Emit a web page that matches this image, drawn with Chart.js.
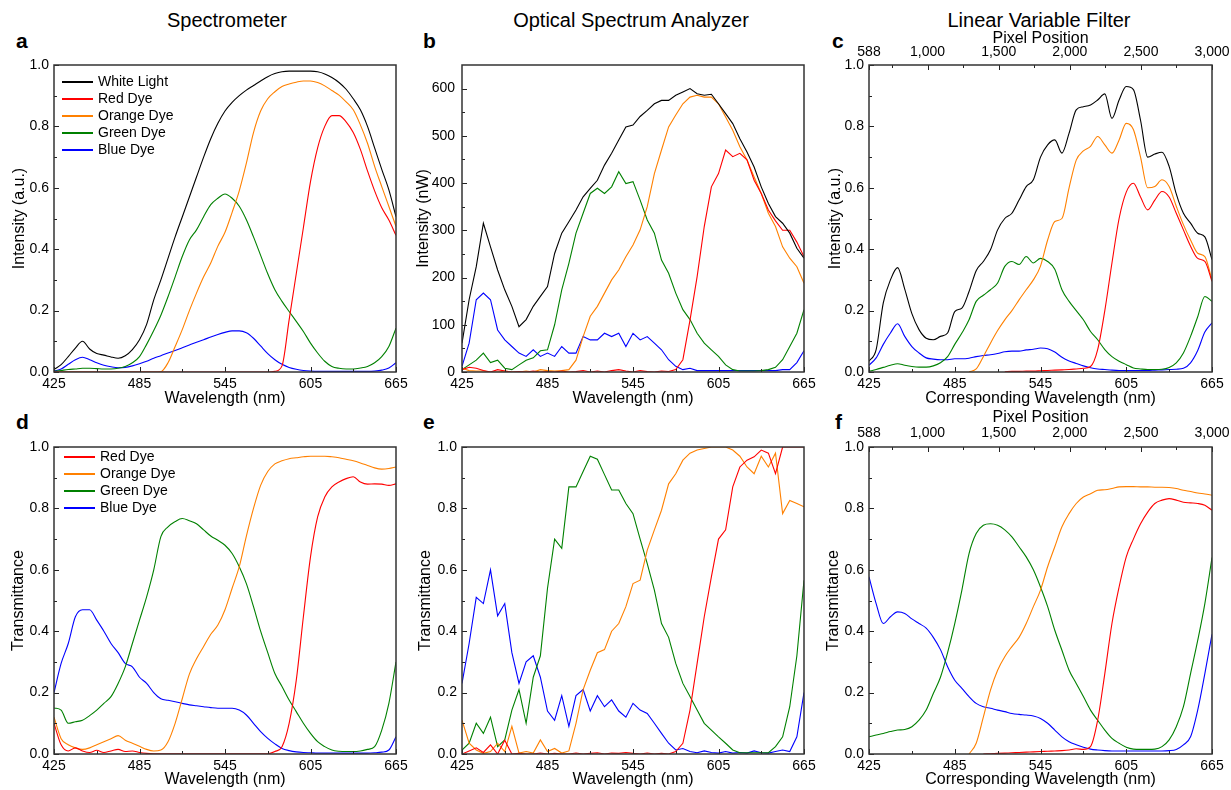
<!DOCTYPE html>
<html>
<head>
<meta charset="utf-8">
<script src="https://cdn.jsdelivr.net/npm/chart.js@4.4.1/dist/chart.umd.min.js"></script>
<style>
  body { margin: 0; background: #fff; font-family: "Liberation Sans", Arial, sans-serif; }
  #page { position: relative; width: 1231px; height: 790px; overflow: hidden; }
  canvas { position: absolute; }
  .colTitle { position: absolute; top: 10px; font-size: 20px; line-height: 20px; transform: translateX(-50%); white-space: nowrap; }
  .letter { position: absolute; font-size: 21px; line-height: 21px; font-weight: bold; }
  .legend { position: absolute; font-size: 14px; }
  .legend div { height: 17px; line-height: 17px; white-space: nowrap; }
  .legend span { display: inline-block; width: 31px; height: 0; border-top: 2px solid; vertical-align: middle; margin-right: 5px; }
</style>
</head>
<body>
<div id="page">
  <div class="colTitle" style="left:227px">Spectrometer</div>
  <div class="colTitle" style="left:631px">Optical Spectrum Analyzer</div>
  <div class="colTitle" style="left:1039px">Linear Variable Filter</div>
  <div class="letter" style="left:16px;top:30px">a</div>
  <div class="letter" style="left:423px;top:30px">b</div>
  <div class="letter" style="left:832px;top:30px">c</div>
  <div class="letter" style="left:16px;top:411px">d</div>
  <div class="letter" style="left:423px;top:411px">e</div>
  <div class="letter" style="left:835px;top:411px">f</div>
  <canvas id="chartA" width="410" height="382" style="left:0;top:28px"></canvas>
  <canvas id="chartB" width="408" height="382" style="left:410px;top:28px"></canvas>
  <canvas id="chartC" width="413" height="382" style="left:818px;top:28px"></canvas>
  <canvas id="chartD" width="410" height="390" style="left:0;top:400px"></canvas>
  <canvas id="chartE" width="408" height="390" style="left:410px;top:400px"></canvas>
  <canvas id="chartF" width="413" height="390" style="left:818px;top:400px"></canvas>
  <div class="legend" id="legendA" style="left:62px;top:73px"></div>
  <div class="legend" id="legendD" style="left:64px;top:448px"></div>
</div>
<script>
// wavelength grid (nm)
const wavelength = [425, 430, 435, 440, 445, 450, 455, 460, 465, 470, 475, 480, 485, 490, 495, 500, 505, 510, 515, 520, 525, 530, 535, 540, 545, 550, 555, 560, 565, 570, 575, 580, 585, 590, 595, 600, 605, 610, 615, 620, 625, 630, 635, 640, 645, 650, 655, 660, 665];
const wavelengthTicks = [425, 485, 545, 605, 665];
const wavelengthMinor = [455, 515, 575, 635];
const unitTicks = [0, 0.2, 0.4, 0.6, 0.8, 1.0];
const unitMinor = [0.1, 0.3, 0.5, 0.7, 0.9];
const nwTicks = [0, 100, 200, 300, 400, 500, 600];
const nwMinor = [50, 150, 250, 350, 450, 550];
const pixelTicks = [588, 1000, 1500, 2000, 2500, 3000];
const pixelMinor = [750, 1250, 1750, 2250, 2750];

const dyeLabels = ['Red Dye', 'Orange Dye', 'Green Dye', 'Blue Dye'];
const dyeColors = ['#ff0000', '#ff8000', '#008000', '#0000ff'];

// a - spectrometer intensity (a.u.)
const specWhite = [0.008, 0.024, 0.05, 0.078, 0.1, 0.075, 0.06, 0.055, 0.049, 0.045, 0.053, 0.073, 0.105, 0.155, 0.235, 0.3, 0.37, 0.44, 0.505, 0.57, 0.635, 0.7, 0.76, 0.81, 0.85, 0.878, 0.9, 0.918, 0.933, 0.948, 0.962, 0.972, 0.978, 0.98, 0.98, 0.98, 0.98, 0.978, 0.971, 0.959, 0.943, 0.921, 0.89, 0.854, 0.8, 0.73, 0.66, 0.593, 0.506];
const specRed = [0, 0, 0, 0, 0, 0, 0, 0, 0, 0, 0, 0, 0, 0, 0, 0, 0, 0, 0, 0, 0, 0, 0, 0, 0, 0, 0, 0, 0, 0, 0, 0.002, 0.02, 0.17, 0.32, 0.47, 0.62, 0.73, 0.8, 0.835, 0.835, 0.815, 0.78, 0.725, 0.655, 0.59, 0.535, 0.495, 0.445];
const specOrange = [0, 0, 0, 0, 0, 0, 0, 0, 0, 0, 0, 0, 0, 0, 0, 0.001, 0.03, 0.083, 0.138, 0.2, 0.257, 0.31, 0.355, 0.41, 0.455, 0.52, 0.59, 0.68, 0.78, 0.85, 0.89, 0.913, 0.93, 0.938, 0.944, 0.948, 0.948, 0.943, 0.932, 0.917, 0.902, 0.88, 0.854, 0.805, 0.745, 0.67, 0.604, 0.539, 0.474];
const specGreen = [0.002, 0.005, 0.008, 0.01, 0.012, 0.012, 0.011, 0.01, 0.01, 0.012, 0.018, 0.03, 0.05, 0.09, 0.135, 0.185, 0.245, 0.31, 0.376, 0.43, 0.463, 0.506, 0.545, 0.566, 0.58, 0.566, 0.54, 0.496, 0.44, 0.38, 0.32, 0.268, 0.23, 0.197, 0.165, 0.132, 0.094, 0.062, 0.035, 0.018, 0.012, 0.01, 0.01, 0.013, 0.018, 0.03, 0.05, 0.083, 0.143];
const specBlue = [0.003, 0.01, 0.025, 0.04, 0.048, 0.04, 0.03, 0.022, 0.017, 0.014, 0.015, 0.02, 0.027, 0.035, 0.045, 0.053, 0.062, 0.07, 0.079, 0.088, 0.097, 0.105, 0.114, 0.122, 0.129, 0.134, 0.134, 0.128, 0.11, 0.085, 0.06, 0.04, 0.025, 0.015, 0.009, 0.005, 0.003, 0.002, 0.002, 0.002, 0.002, 0.002, 0.002, 0.002, 0.002, 0.003, 0.006, 0.013, 0.03];

// b - optical spectrum analyzer intensity (nW)
const osaWhite = [61, 153, 223, 315, 265, 216, 174, 139, 96, 111, 139, 160, 181, 251, 294, 318, 343, 371, 389, 406, 438, 463, 491, 519, 523, 541, 554, 568, 575, 575, 586, 593, 600, 589, 586, 588, 568, 547, 526, 494, 466, 434, 392, 357, 329, 315, 294, 262, 241];
const osaRed = [5, 10, 8, 3, 0, 5, 2, 0, 1, 0, 2, 0, 1, 0, 2, 0, 1, 3, 0, 2, 0, 3, 5, 2, 0, 3, 1, 0, 2, 1, 5, 26, 110, 202, 308, 392, 420, 470, 456, 463, 449, 406, 378, 343, 320, 300, 300, 275, 244];
const osaOrange = [8, 3, 2, 2, 0, 0, 2, 0, 0, 2, 0, 5, 3, 2, 3, 5, 25, 75, 118, 139, 167, 195, 216, 244, 269, 301, 350, 420, 470, 519, 544, 568, 582, 586, 582, 582, 568, 540, 512, 477, 449, 413, 378, 336, 308, 265, 241, 223, 188];
const osaGreen = [5, 15, 25, 40, 20, 25, 8, 5, 15, 25, 30, 45, 47, 100, 174, 230, 294, 336, 378, 389, 378, 392, 424, 399, 403, 364, 322, 294, 237, 209, 167, 132, 111, 82, 61, 47, 33, 15, 5, 2, 2, 2, 3, 5, 10, 26, 54, 82, 132];
const osaBlue = [12, 61, 153, 167, 153, 89, 68, 54, 40, 33, 47, 33, 40, 33, 54, 40, 40, 75, 68, 68, 82, 75, 82, 54, 82, 68, 75, 61, 47, 26, 12, 5, 8, 3, 3, 3, 3, 3, 3, 3, 3, 3, 3, 3, 3, 5, 5, 20, 45];

// c - linear variable filter intensity (a.u.)
const lvfWhite = [0.035, 0.073, 0.225, 0.3, 0.34, 0.27, 0.19, 0.138, 0.11, 0.105, 0.116, 0.127, 0.197, 0.208, 0.262, 0.33, 0.36, 0.398, 0.463, 0.5, 0.517, 0.56, 0.604, 0.626, 0.7, 0.74, 0.756, 0.713, 0.778, 0.854, 0.864, 0.87, 0.886, 0.906, 0.826, 0.886, 0.93, 0.92, 0.82, 0.7, 0.71, 0.716, 0.67, 0.58, 0.517, 0.485, 0.452, 0.44, 0.366];
const lvfRed = [null, null, null, null, null, null, null, null, null, null, null, null, null, null, null, null, null, null, null, 0.001, 0.002, 0.002, 0.003, 0.003, 0.004, 0.005, 0.006, 0.007, 0.008, 0.01, 0.012, 0.018, 0.073, 0.2, 0.355, 0.5, 0.586, 0.615, 0.57, 0.528, 0.56, 0.588, 0.57, 0.517, 0.463, 0.41, 0.37, 0.36, 0.295];
const lvfOrange = [null, null, null, null, null, null, null, null, null, null, null, null, null, null, 0, 0.01, 0.05, 0.094, 0.135, 0.17, 0.2, 0.235, 0.268, 0.3, 0.345, 0.43, 0.49, 0.5, 0.6, 0.69, 0.72, 0.735, 0.767, 0.74, 0.713, 0.756, 0.81, 0.79, 0.7, 0.6, 0.604, 0.626, 0.604, 0.54, 0.48, 0.43, 0.387, 0.376, 0.3];
const lvfGreen = [0.002, 0.008, 0.015, 0.022, 0.027, 0.022, 0.018, 0.016, 0.016, 0.02, 0.03, 0.05, 0.09, 0.127, 0.17, 0.23, 0.25, 0.268, 0.29, 0.344, 0.36, 0.35, 0.376, 0.355, 0.37, 0.36, 0.335, 0.268, 0.23, 0.2, 0.17, 0.132, 0.105, 0.073, 0.05, 0.035, 0.024, 0.013, 0.01, 0.008, 0.008, 0.009, 0.015, 0.03, 0.062, 0.116, 0.18, 0.246, 0.23];
const lvfBlue = [0.022, 0.046, 0.09, 0.127, 0.157, 0.116, 0.083, 0.062, 0.046, 0.042, 0.04, 0.04, 0.043, 0.043, 0.045, 0.05, 0.054, 0.056, 0.06, 0.066, 0.068, 0.068, 0.072, 0.074, 0.078, 0.076, 0.065, 0.048, 0.036, 0.028, 0.02, 0.014, 0.01, 0.008, 0.006, 0.005, 0.005, 0.005, 0.005, 0.005, 0.006, 0.007, 0.008, 0.009, 0.012, 0.03, 0.07, 0.13, 0.16];

// d - spectrometer transmittance
const specTRed = [0.1, 0.03, 0.01, 0.02, 0.01, 0.005, 0.012, 0.005, 0.01, 0.015, 0.008, 0.01, 0.005, 0.002, 0.001, 0.001, 0.001, 0.001, 0.001, 0.001, 0.001, 0.001, 0.001, 0.001, 0.001, 0.001, 0.001, 0.001, 0.001, 0.001, 0.001, 0.008, 0.024, 0.1, 0.24, 0.447, 0.642, 0.772, 0.837, 0.87, 0.886, 0.897, 0.903, 0.886, 0.879, 0.88, 0.879, 0.875, 0.88];
const specTOrange = [0.12, 0.05, 0.03, 0.02, 0.015, 0.02, 0.03, 0.04, 0.05, 0.06, 0.045, 0.035, 0.025, 0.015, 0.01, 0.013, 0.04, 0.1, 0.18, 0.26, 0.31, 0.35, 0.39, 0.42, 0.47, 0.54, 0.61, 0.71, 0.8, 0.875, 0.92, 0.945, 0.955, 0.962, 0.965, 0.968, 0.97, 0.97, 0.97, 0.968, 0.965, 0.96, 0.955, 0.948, 0.94, 0.932, 0.928, 0.93, 0.935];
const specTGreen = [0.15, 0.143, 0.1, 0.105, 0.11, 0.125, 0.143, 0.165, 0.187, 0.23, 0.284, 0.36, 0.436, 0.512, 0.6, 0.708, 0.74, 0.757, 0.767, 0.76, 0.75, 0.73, 0.71, 0.696, 0.68, 0.653, 0.61, 0.555, 0.48, 0.4, 0.33, 0.262, 0.22, 0.176, 0.138, 0.1, 0.067, 0.04, 0.024, 0.013, 0.009, 0.008, 0.008, 0.01, 0.015, 0.024, 0.078, 0.165, 0.3];
const specTBlue = [0.2, 0.295, 0.36, 0.447, 0.47, 0.47, 0.436, 0.4, 0.36, 0.33, 0.295, 0.284, 0.25, 0.23, 0.2, 0.18, 0.175, 0.17, 0.165, 0.16, 0.157, 0.154, 0.151, 0.149, 0.149, 0.149, 0.143, 0.127, 0.1, 0.073, 0.051, 0.033, 0.018, 0.011, 0.007, 0.005, 0.004, 0.003, 0.003, 0.003, 0.003, 0.003, 0.003, 0.003, 0.003, 0.004, 0.006, 0.013, 0.056];

// e - optical spectrum analyzer transmittance
const osaTRed = [0, 0.01, 0.02, 0.005, 0.03, 0, 0.045, 0, 0.002, 0, 0, 0.003, 0, 0.002, 0, 0, 0.003, 0, 0.002, 0.004, 0, 0.003, 0.002, 0.005, 0.002, 0, 0.003, 0, 0.002, 0, 0.008, 0.035, 0.143, 0.295, 0.447, 0.577, 0.7, 0.73, 0.87, 0.935, 0.957, 0.968, 0.99, 0.98, 0.913, 1, 1, 1, 1];
const osaTOrange = [0.11, 0.035, 0.013, 0.002, 0.008, 0.035, 0.008, 0.09, 0.003, 0.008, 0.003, 0.046, 0.008, 0.018, 0.003, 0.01, 0.1, 0.21, 0.273, 0.33, 0.34, 0.4, 0.425, 0.48, 0.555, 0.566, 0.664, 0.73, 0.794, 0.88, 0.913, 0.957, 0.98, 0.99, 0.995, 1, 1, 1, 0.99, 0.97, 0.935, 0.913, 0.97, 0.935, 0.98, 0.783, 0.826, 0.816, 0.805];
const osaTGreen = [0.013, 0.035, 0.1, 0.067, 0.12, 0.024, 0.046, 0.143, 0.21, 0.1, 0.25, 0.32, 0.54, 0.7, 0.67, 0.87, 0.87, 0.92, 0.97, 0.96, 0.91, 0.86, 0.86, 0.816, 0.783, 0.7, 0.62, 0.534, 0.425, 0.38, 0.295, 0.23, 0.187, 0.143, 0.1, 0.078, 0.056, 0.035, 0.013, 0.004, 0.004, 0.004, 0.004, 0.004, 0.024, 0.056, 0.154, 0.32, 0.566];
const osaTBlue = [0.23, 0.36, 0.51, 0.49, 0.6, 0.45, 0.49, 0.33, 0.23, 0.3, 0.32, 0.25, 0.14, 0.11, 0.19, 0.09, 0.19, 0.21, 0.14, 0.19, 0.154, 0.176, 0.14, 0.12, 0.165, 0.143, 0.132, 0.1, 0.067, 0.035, 0.013, 0.018, 0.008, 0.004, 0.01, 0.005, 0.003, 0.008, 0.003, 0.005, 0.003, 0.01, 0.004, 0.003, 0.008, 0.013, 0.008, 0.056, 0.2];

// f - linear variable filter transmittance
const lvfTRed = [null, null, null, null, null, null, null, null, null, null, null, null, null, null, null, null, 0, 0.001, 0.002, 0.003, 0.004, 0.005, 0.006, 0.007, 0.008, 0.009, 0.01, 0.011, 0.013, 0.017, 0.015, 0.024, 0.11, 0.262, 0.425, 0.544, 0.642, 0.7, 0.75, 0.788, 0.816, 0.827, 0.832, 0.827, 0.82, 0.818, 0.816, 0.81, 0.794];
const lvfTOrange = [null, null, null, null, null, null, null, null, null, null, null, null, null, null, 0, 0.035, 0.12, 0.208, 0.273, 0.317, 0.35, 0.38, 0.425, 0.48, 0.534, 0.61, 0.675, 0.74, 0.783, 0.816, 0.837, 0.848, 0.859, 0.861, 0.865, 0.87, 0.871, 0.871, 0.87, 0.87, 0.869, 0.869, 0.868, 0.865, 0.859, 0.855, 0.85, 0.847, 0.843];
const lvfTGreen = [0.056, 0.062, 0.067, 0.073, 0.078, 0.08, 0.089, 0.11, 0.143, 0.197, 0.25, 0.33, 0.425, 0.534, 0.653, 0.718, 0.745, 0.75, 0.745, 0.73, 0.707, 0.675, 0.642, 0.6, 0.544, 0.48, 0.403, 0.338, 0.273, 0.23, 0.187, 0.143, 0.11, 0.078, 0.051, 0.035, 0.022, 0.016, 0.015, 0.015, 0.016, 0.024, 0.046, 0.089, 0.154, 0.262, 0.37, 0.49, 0.64];
const lvfTBlue = [0.577, 0.49, 0.425, 0.447, 0.463, 0.458, 0.44, 0.425, 0.41, 0.38, 0.34, 0.284, 0.24, 0.214, 0.187, 0.165, 0.154, 0.149, 0.143, 0.138, 0.132, 0.129, 0.127, 0.124, 0.116, 0.1, 0.078, 0.056, 0.04, 0.03, 0.022, 0.016, 0.013, 0.011, 0.01, 0.01, 0.01, 0.01, 0.01, 0.01, 0.01, 0.01, 0.011, 0.015, 0.03, 0.056, 0.143, 0.262, 0.39];


Chart.defaults.font.family = '"Liberation Sans", Arial, sans-serif';
Chart.defaults.color = '#000';

// inward ticks + frame, like the origin-style plots
const frameTicks = {
  id: 'frameTicks',
  afterDatasetsDraw(chart, args, opts) {
    const { ctx, chartArea: area, scales } = chart;
    const line = (x1, y1, x2, y2) => {
      ctx.beginPath();
      ctx.moveTo(x1, y1);
      ctx.lineTo(x2, y2);
      ctx.stroke();
    };
    ctx.save();
    ctx.strokeStyle = '#222';
    ctx.lineWidth = 1;
    const xs = scales.x, ys = scales.y, top = scales.x2;
    xs.ticks.forEach(t => { const p = Math.round(xs.getPixelForValue(t.value)) + 0.5; line(p, area.bottom, p, area.bottom - 5); });
    opts.minorX.forEach(v => { const p = Math.round(xs.getPixelForValue(v)) + 0.5; line(p, area.bottom, p, area.bottom - 3); });
    ys.ticks.forEach(t => { const p = Math.round(ys.getPixelForValue(t.value)) + 0.5; line(area.left, p, area.left + 5, p); });
    opts.minorY.forEach(v => { const p = Math.round(ys.getPixelForValue(v)) + 0.5; line(area.left, p, area.left + 3, p); });
    if (top) {
      top.ticks.forEach(t => { const p = Math.round(top.getPixelForValue(t.value)) + 0.5; line(p, area.top, p, area.top + 5); });
      pixelMinor.forEach(v => { const p = Math.round(top.getPixelForValue(v)) + 0.5; line(p, area.top, p, area.top + 3); });
    }
    ctx.strokeStyle = '#333';
    ctx.lineWidth = 1.5;
    ctx.strokeRect(area.left, area.top, area.right - area.left, area.bottom - area.top);
    ctx.restore();
  }
};

function series(values, color, label, smooth) {
  return {
    label: label,
    data: wavelength.map((w, i) => ({ x: w, y: values[i] })),
    borderColor: color,
    backgroundColor: color,
    borderWidth: 1.1,
    pointRadius: 0,
    cubicInterpolationMode: smooth ? 'monotone' : 'default',
    tension: 0,
    spanGaps: false
  };
}

function makeChart(id, cfg) {
  const scales = {
    x: {
      type: 'linear', position: 'bottom', min: 425, max: 665,
      afterBuildTicks: s => { s.ticks = wavelengthTicks.map(v => ({ value: v })); },
      afterFit: s => { s.height = cfg.xHeight; s.paddingLeft = 0; s.paddingRight = 0; },
      grid: { display: false, drawTicks: false },
      border: { display: false },
      ticks: { padding: 4, font: { size: 14 }, color: '#000', maxRotation: 0, autoSkip: false },
      title: { display: true, text: cfg.xTitle, font: { size: 16 }, color: '#000', padding: { top: 0, bottom: cfg.xTitlePad } }
    },
    y: {
      type: 'linear', position: 'left', min: 0, max: cfg.yMax,
      afterBuildTicks: s => { s.ticks = cfg.yTicks.map(v => ({ value: v })); },
      afterFit: s => { s.width = cfg.yWidth; s.paddingTop = 0; s.paddingBottom = 0; },
      grid: { display: false, drawTicks: false },
      border: { display: false },
      ticks: { padding: cfg.yTickPad, font: { size: 14 }, color: '#000', callback: cfg.yFormat },
      title: { display: true, text: cfg.yTitle, font: { size: 16 }, color: '#000', padding: { top: cfg.yTitlePad, bottom: 0 } }
    }
  };
  if (cfg.pixelAxis) {
    scales.x2 = {
      type: 'linear', position: 'top', min: 588, max: 3000,
      afterBuildTicks: s => { s.ticks = pixelTicks.map(v => ({ value: v })); },
      afterFit: s => { s.height = cfg.topHeight; s.paddingLeft = 0; s.paddingRight = 0; },
      grid: { display: false, drawTicks: false },
      border: { display: false },
      ticks: { padding: cfg.topTickPad, font: { size: 14 }, color: '#000', maxRotation: 0, autoSkip: false,
        callback: v => v.toLocaleString('en-US') },
      title: { display: true, text: 'Pixel Position', font: { size: 16 }, color: '#000', padding: { top: cfg.topTitlePad, bottom: 0 } }
    };
  }
  return new Chart(document.getElementById(id), {
    type: 'line',
    data: { datasets: cfg.datasets },
    options: {
      responsive: false,
      animation: false,
      layout: { padding: { left: 0, right: cfg.padRight, top: cfg.pixelAxis ? 0 : cfg.padTop, bottom: 0 } },
      scales: scales,
      plugins: {
        legend: { display: false },
        tooltip: { enabled: false },
        frameTicks: { minorX: wavelengthMinor, minorY: cfg.yMinor }
      }
    },
    plugins: [frameTicks]
  });
}

const oneDecimal = v => v.toFixed(1);
const plain = v => String(v);

function dyeSets(r, o, g, b, smooth) {
  return [r, o, g, b].map((arr, i) => series(arr, dyeColors[i], dyeLabels[i], smooth));
}

makeChart('chartA', {
  datasets: [series(specWhite, '#000000', 'White Light', true)].concat(dyeSets(specRed, specOrange, specGreen, specBlue, true)),
  xTitle: 'Wavelength (nm)', yTitle: 'Intensity (a.u.)', yMax: 1, yTicks: unitTicks, yMinor: unitMinor, yFormat: oneDecimal,
  yWidth: 54, yTickPad: 5, yTitlePad: 10, padRight: 14, padTop: 37, xHeight: 38, xTitlePad: 2
});
makeChart('chartB', {
  datasets: [series(osaWhite, '#000000', 'White Light', false)].concat(dyeSets(osaRed, osaOrange, osaGreen, osaBlue, false)),
  xTitle: 'Wavelength (nm)', yTitle: 'Intensity (nW)', yMax: 650, yTicks: nwTicks, yMinor: nwMinor, yFormat: plain,
  yWidth: 52, yTickPad: 7, yTitlePad: 4, padRight: 14, padTop: 37, xHeight: 38, xTitlePad: 2
});
makeChart('chartC', {
  datasets: [series(lvfWhite, '#000000', 'White Light', true)].concat(dyeSets(lvfRed, lvfOrange, lvfGreen, lvfBlue, true)),
  xTitle: 'Corresponding Wavelength (nm)', yTitle: 'Intensity (a.u.)', yMax: 1, yTicks: unitTicks, yMinor: unitMinor, yFormat: oneDecimal,
  yWidth: 51, yTickPad: 5, yTitlePad: 8, padRight: 19, xHeight: 38, xTitlePad: 2,
  pixelAxis: true, topHeight: 37, topTickPad: 4, topTitlePad: 1
});
makeChart('chartD', {
  datasets: dyeSets(specTRed, specTOrange, specTGreen, specTBlue, true),
  xTitle: 'Wavelength (nm)', yTitle: 'Transmittance', yMax: 1, yTicks: unitTicks, yMinor: unitMinor, yFormat: oneDecimal,
  yWidth: 54, yTickPad: 5, yTitlePad: 9, padRight: 14, padTop: 47, xHeight: 36, xTitlePad: 1
});
makeChart('chartE', {
  datasets: dyeSets(osaTRed, osaTOrange, osaTGreen, osaTBlue, false),
  xTitle: 'Wavelength (nm)', yTitle: 'Transmittance', yMax: 1, yTicks: unitTicks, yMinor: unitMinor, yFormat: oneDecimal,
  yWidth: 52, yTickPad: 5, yTitlePad: 6, padRight: 14, padTop: 47, xHeight: 36, xTitlePad: 1
});
makeChart('chartF', {
  datasets: dyeSets(lvfTRed, lvfTOrange, lvfTGreen, lvfTBlue, true),
  xTitle: 'Corresponding Wavelength (nm)', yTitle: 'Transmittance', yMax: 1, yTicks: unitTicks, yMinor: unitMinor, yFormat: oneDecimal,
  yWidth: 51, yTickPad: 5, yTitlePad: 6, padRight: 19, xHeight: 36, xTitlePad: 1,
  pixelAxis: true, topHeight: 47, topTickPad: 5, topTitlePad: 8
});

// legends in panels a and d
function buildLegend(id, labels, colors) {
  const box = document.getElementById(id);
  labels.forEach((label, i) => {
    const row = document.createElement('div');
    const swatch = document.createElement('span');
    swatch.style.borderTopColor = colors[i];
    row.appendChild(swatch);
    row.appendChild(document.createTextNode(label));
    box.appendChild(row);
  });
}
buildLegend('legendA', ['White Light'].concat(dyeLabels), ['#000000'].concat(dyeColors));
buildLegend('legendD', dyeLabels, dyeColors);
</script>
</body>
</html>
